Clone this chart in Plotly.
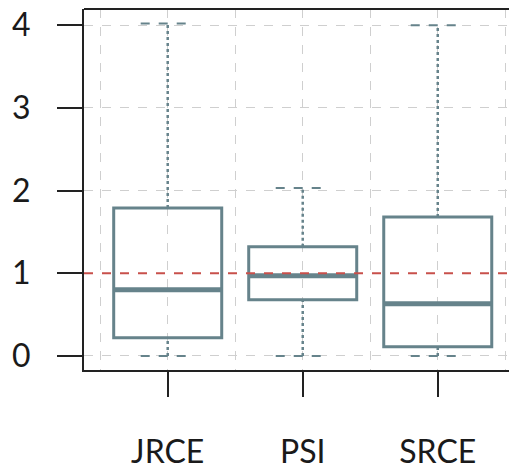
import plotly.graph_objects as go

categories = ["JRCE", "PSI", "SRCE"]
x_pos = [0, 1, 2]
lower = [0.0, 0.0, 0.0]
q1 = [0.22, 0.68, 0.11]
median = [0.80, 0.97, 0.63]
q3 = [1.79, 1.32, 1.68]
upper = [4.02, 2.03, 4.0]
ref_value = 1.0
y_ticks = [0, 1, 2, 3, 4]

box_color = "#66838b"
fig = go.Figure()

# whiskers (dotted) and caps
for i in range(len(categories)):
    xi = x_pos[i]
    for a, b in [(lower[i], q1[i]), (q3[i], upper[i])]:
        fig.add_trace(go.Scatter(x=[xi, xi], y=[a, b], mode="lines",
                                 line=dict(color=box_color, width=2.5, dash="dot"),
                                 hoverinfo="skip", showlegend=False))
    for v in [lower[i], upper[i]]:
        fig.add_trace(go.Scatter(x=[xi - 0.2, xi + 0.2], y=[v, v], mode="lines",
                                 line=dict(color=box_color, width=2, dash="dash"),
                                 hoverinfo="skip", showlegend=False))

fig.add_trace(go.Box(
    x=x_pos, q1=q1, median=median, q3=q3, lowerfence=q1, upperfence=q3,
    width=0.8, whiskerwidth=0,
    line=dict(color=box_color, width=3), fillcolor="rgba(255,255,255,0)",
    showlegend=False, hoverinfo="skip"))

# thicker medians
for i in range(len(categories)):
    fig.add_trace(go.Scatter(x=[x_pos[i] - 0.4, x_pos[i] + 0.4], y=[median[i], median[i]],
                             mode="lines", line=dict(color=box_color, width=5),
                             hoverinfo="skip", showlegend=False))

fig.add_hline(y=ref_value, line=dict(color="#c8504b", width=2, dash="dash"))

fig.add_shape(type="line", xref="paper", yref="paper", x0=0, x1=1, y0=1, y1=1,
              line=dict(color="#222222", width=2))

fig.update_layout(
    width=509, height=462,
    margin=dict(l=76, r=0, t=1, b=100, autoexpand=False),
    paper_bgcolor="white", plot_bgcolor="white",
    font=dict(family="Lato", color="#1a1a1a", size=32),
)
fig.update_xaxes(
    range=[-0.62, 2.587], tickvals=x_pos, ticktext=categories,
    ticks="outside", ticklen=25, tickwidth=1.5, tickcolor="#222222",
    ticklabelstandoff=28, automargin=False, ticklabeloverflow="allow",
    showline=True, linecolor="#222222", linewidth=2,
    showgrid=False, zeroline=False,
    minor=dict(dtick=0.5, tick0=-0.5, showgrid=True, gridcolor="#cfcfcf",
               griddash="dash", gridwidth=1, ticks=""),
)
fig.update_yaxes(
    range=[-0.17, 4.195], tickvals=y_ticks,
    ticks="outside", ticklen=25, tickwidth=1.5, tickcolor="#222222",
    ticklabelstandoff=20, automargin=False, ticklabeloverflow="allow",
    showline=True, linecolor="#222222", linewidth=2,
    showgrid=True, gridcolor="#cfcfcf", griddash="dash", gridwidth=1,
    zeroline=False,
)

fig.write_html("out.html")
